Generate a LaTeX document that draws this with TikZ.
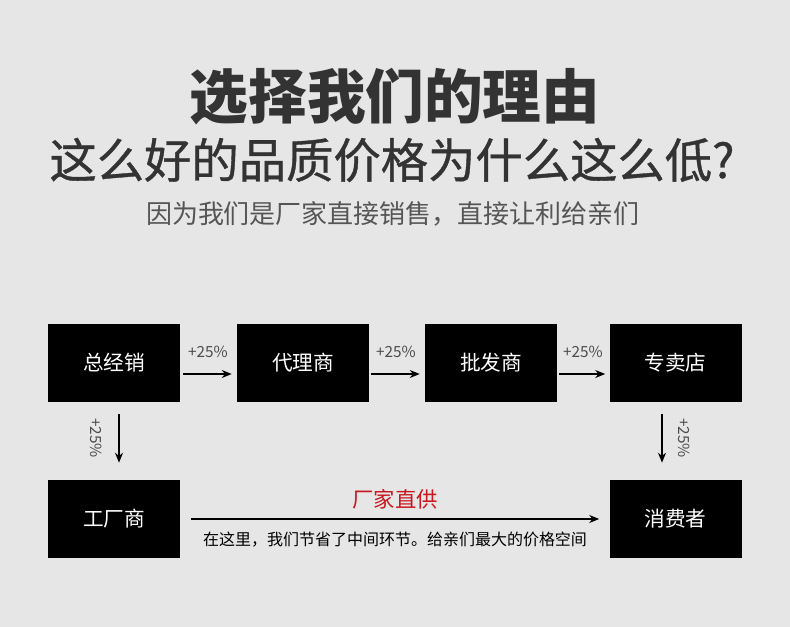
\documentclass[tikz,border=0pt]{standalone}
\usepackage{fontspec}
\setmainfont{Noto Sans CJK SC}
\newfontfamily\medfont[FakeBold=0.8]{Noto Sans CJK SC}
\usetikzlibrary{arrows.meta,positioning}
\definecolor{bgcol}{HTML}{E6E6E6}
\definecolor{titlecol}{HTML}{333333}
\definecolor{subcol}{HTML}{555555}
\definecolor{redcol}{HTML}{C8161D}
\tikzset{
  box/.style={fill=black, text=white, minimum width=99pt, minimum height=58.5pt, inner sep=0pt, font=\fontsize{15.5}{18}\selectfont},
  arrow/.style={-{Stealth[length=7.5pt,width=6pt]}, line width=1.5pt},
  pct/.style={text=black!70, inner sep=0pt, font=\fontsize{11.5}{13}\selectfont},
  heading/.style={text=titlecol, inner sep=0pt}
}
\begin{document}
\begin{tikzpicture}[x=0.75pt, y=-0.75pt]
\fill[bgcol] (0,0) rectangle (790,627);
% titles
\node[heading, font=\fontsize{44}{50}\selectfont\bfseries] (t1) at (395,97) {选择我们的理由};
\node[heading, font=\fontsize{35.5}{40}\medfont] (t2) at (392,160) {这么好的品质价格为什么这么低?};
\node[heading, text=subcol, font=\fontsize{19.5}{22}\selectfont] (t3) at (393,214) {因为我们是厂家直接销售，直接让利给亲们};
% boxes
\node[box] (zjx) at (114,363) {总经销};
\node[box] (dls) at (303,363) {代理商};
\node[box] (pfs) at (491,363) {批发商};
\node[box] (zmd) at (675.5,363) {专卖店};
\node[box] (gcs) at (114,519) {工厂商};
\node[box] (xfz) at (675.5,519) {消费者};
% markups
\draw[arrow] ([shift={(3,11)}]zjx.east) -- ([shift={(-5,11)}]dls.west);
\draw[arrow] ([shift={(2,11)}]dls.east) -- ([shift={(-5,11)}]pfs.west);
\draw[arrow] ([shift={(2,11)}]pfs.east) -- ([shift={(-4,11)}]zmd.west);
\node[pct] (p1) at (208,352) {+25\%};
\node[pct] (p2) at (396,352) {+25\%};
\node[pct] (p3) at (583,352) {+25\%};
\draw[arrow] ([shift={(5,12)}]zjx.south) -- ([shift={(5,-17)}]gcs.north);
\draw[arrow] ([shift={(-13.5,12)}]zmd.south) -- ([shift={(-13.5,-17)}]xfz.north);
\node[pct, rotate=-90] (p4) at (96,438) {+25\%};
\node[pct, rotate=-90] (p5) at (684,438) {+25\%};
% direct supply
\draw[arrow] ([xshift=8.25pt]gcs.east) -- ([xshift=-7.5pt]xfz.west);
\node[text=redcol, inner sep=0pt, font=\fontsize{16}{18}\selectfont] (zg) at (395,499) {厂家直供};
\node[text=black, inner sep=0pt, font=\fontsize{12}{14}\selectfont] (note) at (395,540) {在这里，我们节省了中间环节。给亲们最大的价格空间};
\end{tikzpicture}
\end{document}
